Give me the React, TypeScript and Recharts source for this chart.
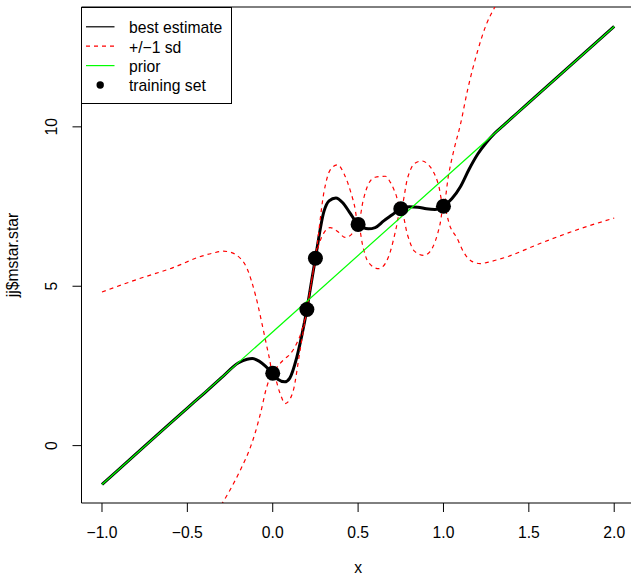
import React from "react";
import {
  ComposedChart,
  Line,
  XAxis,
  YAxis,
  ReferenceLine,
  Legend,
} from "recharts";

// best estimate (posterior mean)
const meanX = [-1, -0.5, -0.4, -0.3, -0.2, -0.15, -0.12, -0.08, -0.04, 0, 0.03, 0.07, 0.1, 0.14, 0.17, 0.2, 0.225, 0.25, 0.3, 0.33, 0.37, 0.41, 0.45, 0.5, 0.56, 0.6, 0.65, 0.7, 0.75, 0.8, 0.85, 0.9, 0.95, 1.0, 1.05, 1.1, 1.15, 1.2, 1.25, 1.3, 1.35, 1.4, 1.5, 2.0];
const meanY = [-1.22, 1.18, 1.65, 2.13, 2.6, 2.71, 2.73, 2.65, 2.48, 2.27, 2.08, 2.0, 2.12, 2.75, 3.45, 4.27, 5.08, 5.88, 7.35, 7.68, 7.77, 7.62, 7.32, 6.94, 6.8, 6.84, 7.05, 7.24, 7.43, 7.49, 7.48, 7.43, 7.41, 7.51, 7.75, 8.13, 8.67, 9.14, 9.5, 9.8, 10.04, 10.28, 10.76, 13.15];

// +1 sd
const upperX = [-1, -0.78, -0.58, -0.43, -0.35, -0.29, -0.25, -0.21, -0.15, -0.1, -0.05, -0.02, 0, 0.03, 0.07, 0.1, 0.14, 0.17, 0.2, 0.225, 0.25, 0.3, 0.336, 0.38, 0.42, 0.46, 0.48, 0.5, 0.53, 0.56, 0.6, 0.66, 0.69, 0.72, 0.75, 0.79, 0.83, 0.875, 0.91, 0.94, 0.97, 1.0, 1.03, 1.06, 1.1, 1.14, 1.2, 1.25, 1.3, 1.4, 1.5, 2.0];
const upperY = [4.82, 5.24, 5.59, 5.92, 6.04, 6.1, 6.07, 5.97, 5.55, 4.7, 3.5, 2.75, 2.27, 2.5, 2.72, 2.86, 3.2, 3.6, 4.27, 5.08, 5.88, 7.95, 8.64, 8.81, 8.5, 7.9, 7.5, 6.94, 7.7, 8.2, 8.42, 8.45, 8.25, 7.9, 7.43, 8.4, 8.85, 8.93, 8.82, 8.6, 8.2, 7.51, 8.5, 9.25, 10.09, 11.13, 12.38, 13.2, 13.75, 14.6, 15.3, 19.2];

// -1 sd
const lowerX = [-1, -0.75, -0.5, -0.4, -0.3, -0.25, -0.19, -0.13, -0.1, -0.07, -0.035, 0, 0.043, 0.072, 0.1, 0.121, 0.16, 0.2, 0.225, 0.25, 0.297, 0.336, 0.38, 0.424, 0.46, 0.5, 0.53, 0.56, 0.62, 0.66, 0.69, 0.72, 0.75, 0.79, 0.83, 0.884, 0.92, 0.953, 0.98, 1.0, 1.04, 1.08, 1.117, 1.166, 1.215, 1.28, 1.37, 1.565, 1.76, 2.0];
const lowerY = [-7.2, -5.0, -3.4, -2.6, -1.85, -1.39, -0.77, -0.04, 0.45, 1.05, 1.84, 2.27, 1.64, 1.32, 1.45, 1.74, 2.99, 4.27, 5.08, 5.88, 6.65, 6.84, 6.72, 6.53, 6.62, 6.94, 6.2, 5.75, 5.55, 5.72, 6.11, 6.75, 7.43, 6.6, 6.1, 5.97, 6.08, 6.43, 6.95, 7.51, 6.86, 6.5, 6.08, 5.78, 5.71, 5.78, 5.92, 6.34, 6.73, 7.14];

// prior mean (straight line)
const priorX = [-1, 2];
const priorY = [-1.22, 13.15];

// training set
const trainX = [0, 0.2, 0.25, 0.5, 0.75, 1.0];
const trainY = [2.27, 4.27, 5.88, 6.94, 7.43, 7.51];

const xTicks = [-1, -0.5, 0, 0.5, 1, 1.5, 2];
const yTicks = [0, 5, 10];

const X_DOMAIN = [-1.12, 2.12];
const Y_DOMAIN = [-1.8, 13.76];

const FONT = "'Liberation Sans', Arial, Helvetica, sans-serif";
const FS = 15.7;

const zip = (xs: number[], ys: number[]) => xs.map((x, i) => ({ x, y: ys[i] }));

const meanData = zip(meanX, meanY);
const upperData = zip(upperX, upperY);
const lowerData = zip(lowerX, lowerY);
const priorData = zip(priorX, priorY);
const trainData = zip(trainX, trainY);

const fmtX = (v: number) => (v < 0 ? "\u2212" : "") + Math.abs(v).toFixed(1);

const XTick = ({ x, y, payload }: any) => (
  <text x={x} y={y + 24.3} textAnchor="middle" fontSize={FS} fontFamily={FONT} fill="#000">
    {fmtX(payload.value)}
  </text>
);

const YTick = ({ x, y, payload }: any) => {
  const cx = x - 13.8;
  return (
    <text
      x={cx}
      y={y}
      textAnchor="middle"
      fontSize={FS}
      fontFamily={FONT}
      fill="#000"
      transform={`rotate(-90, ${cx}, ${y})`}
    >
      {String(payload.value)}
    </text>
  );
};

const legendItems = [
  { label: "best estimate", kind: "line", color: "#000", dash: undefined },
  { label: "+/\u22121 sd", kind: "line", color: "#ff0000", dash: "4 4" },
  { label: "prior", kind: "line", color: "#00ff00", dash: undefined },
  { label: "training set", kind: "dot", color: "#000", dash: undefined },
];

const LegendBox = () => (
  <svg width={152} height={98} style={{ display: "block" }}>
    <rect x={0.5} y={0.5} width={150} height={96} fill="#fff" stroke="#000" strokeWidth={1} />
    {legendItems.map((it, i) => {
      const cy = 19.8 + i * 19.4;
      return (
        <g key={it.label}>
          {it.kind === "line" ? (
            <line x1={5} x2={33.5} y1={cy} y2={cy} stroke={it.color} strokeWidth={1.2} strokeDasharray={it.dash} />
          ) : (
            <circle cx={19.2} cy={cy} r={3.7} fill={it.color} />
          )}
          <text x={48} y={cy + 6.3} fontSize={FS} fontFamily={FONT} fill="#000">
            {it.label}
          </text>
        </g>
      );
    })}
  </svg>
);

export default function App() {
  return (
    <div style={{ position: "absolute", left: 0, top: 0, width: 631, height: 575, overflow: "hidden", background: "#fff" }}>
      <ComposedChart width={640} height={575} margin={{ top: 7, right: 5.3, bottom: 0, left: 0 }}>
        <XAxis
          type="number"
          dataKey="x"
          domain={X_DOMAIN}
          ticks={xTicks}
          allowDataOverflow
          height={72}
          tickSize={9}
          axisLine={{ stroke: "#000", strokeWidth: 1 }}
          tickLine={{ stroke: "#000", strokeWidth: 1 }}
          tick={<XTick />}
          label={(props: any) => {
            const vb = props.viewBox || {};
            return (
              <text x={vb.x + vb.width / 2} y={vb.y + vb.height - 2} textAnchor="middle" fontSize={FS} fontFamily={FONT} fill="#000">
                x
              </text>
            );
          }}
        />
        <YAxis
          type="number"
          dataKey="y"
          domain={Y_DOMAIN}
          ticks={yTicks}
          allowDataOverflow
          width={81.5}
          tickSize={9}
          axisLine={{ stroke: "#000", strokeWidth: 1 }}
          tickLine={{ stroke: "#000", strokeWidth: 1 }}
          tick={<YTick />}
          label={(props: any) => {
            const vb = props.viewBox || {};
            const cx = 18;
            const cy = vb.y + vb.height / 2;
            return (
              <text x={cx} y={cy} textAnchor="middle" fontSize={FS} fontFamily={FONT} fill="#000" transform={`rotate(-90, ${cx}, ${cy})`}>
                jj$mstar.star
              </text>
            );
          }}
        />
        <ReferenceLine y={Y_DOMAIN[1]} stroke="#000" strokeWidth={1} />
        <Line data={meanData} dataKey="y" type="monotone" stroke="#000" strokeWidth={3} dot={false} activeDot={false} isAnimationActive={false} />
        <Line data={upperData} dataKey="y" type="monotone" stroke="#ff0000" strokeWidth={1.2} strokeDasharray="4 4" dot={false} activeDot={false} isAnimationActive={false} />
        <Line data={lowerData} dataKey="y" type="monotone" stroke="#ff0000" strokeWidth={1.2} strokeDasharray="4 4" dot={false} activeDot={false} isAnimationActive={false} />
        <Line data={priorData} dataKey="y" type="linear" stroke="#00ff00" strokeWidth={1.2} dot={false} activeDot={false} isAnimationActive={false} />
        <Line
          data={trainData}
          dataKey="y"
          stroke="none"
          dot={{ r: 7.5, fill: "#000", stroke: "none" }}
          activeDot={false}
          isAnimationActive={false}
        />
        <Legend
          layout="horizontal"
          verticalAlign="middle"
          align="center"
          wrapperStyle={{ left: 81, top: 7, width: 152, height: 98 }}
          content={() => <LegendBox />}
        />
      </ComposedChart>
    </div>
  );
}
